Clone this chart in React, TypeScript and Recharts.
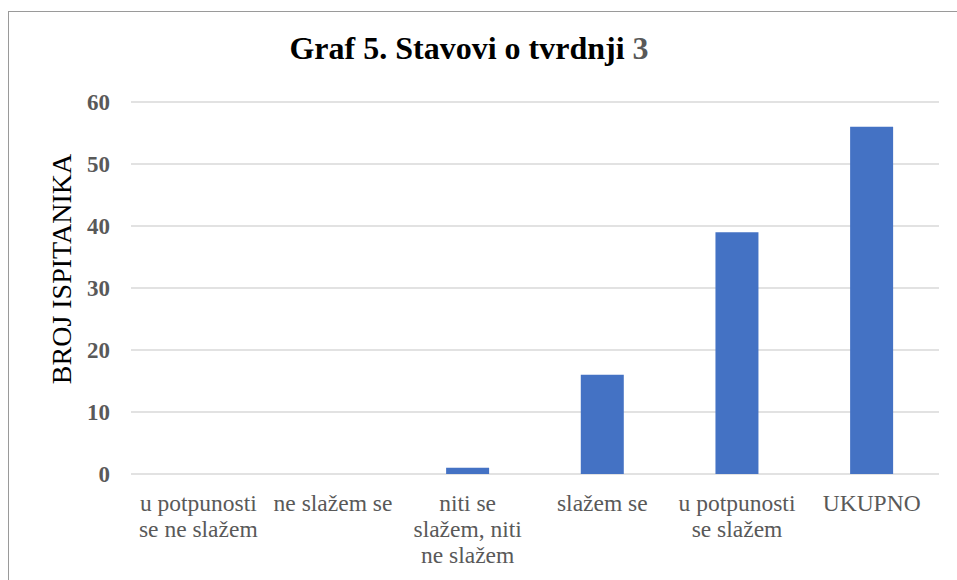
import React from "react";
import { BarChart, Bar, XAxis, YAxis, CartesianGrid } from "recharts";

const categories = [
  "u potpunosti se ne slažem",
  "ne slažem se",
  "niti se slažem, niti ne slažem",
  "slažem se",
  "u potpunosti se slažem",
  "UKUPNO",
];
const categoryLines = [
  ["u potpunosti", "se ne slažem"],
  ["ne slažem se"],
  ["niti se", "slažem, niti", "ne slažem"],
  ["slažem se"],
  ["u potpunosti", "se slažem"],
  ["UKUPNO"],
];
const values = [0, 0, 1, 16, 39, 56];
const yTicks = [0, 10, 20, 30, 40, 50, 60];

const data = categories.map((c, i) => ({ name: c, value: values[i] }));

const FONT = "'Liberation Serif', 'Times New Roman', serif";

const renderXTick = (props: any) => {
  const { x, y, payload } = props;
  const idx = categories.indexOf(payload.value);
  const lines = idx >= 0 ? categoryLines[idx] : [String(payload.value)];
  return (
    <text x={x} y={y} textAnchor="middle" fill="#595959" style={{ fontFamily: FONT, fontSize: 23.5 }}>
      {lines.map((l: string, i: number) => (
        <tspan key={i} x={x} dy={i === 0 ? 37 : 26}>
          {l}
        </tspan>
      ))}
    </text>
  );
};

const renderYTick = (props: any) => {
  const { x, y, payload } = props;
  return (
    <text
      x={x - 21}
      y={y}
      dy={8}
      textAnchor="end"
      fill="#595959"
      style={{ fontFamily: FONT, fontSize: 23, fontWeight: "bold" }}
    >
      {payload.value}
    </text>
  );
};

const renderYLabel = () => (
  <text
    x={0}
    y={0}
    transform="translate(71, 269) rotate(-90)"
    textAnchor="middle"
    fill="#000"
    style={{ fontFamily: FONT, fontSize: 28 }}
  >
    BROJ ISPITANIKA
  </text>
);

export default function App() {
  return (
    <div
      style={{
        position: "absolute",
        left: 0,
        top: 0,
        width: 957,
        height: 580,
        overflow: "hidden",
        background: "#fff",
        fontFamily: FONT,
      }}
    >
      <div
        style={{
          position: "absolute",
          left: 8,
          top: 11,
          width: 1200,
          height: 1200,
          border: "1px solid #9a9a9a",
        }}
      />
      <div
        style={{
          position: "absolute",
          left: 0,
          width: 938,
          top: 30,
          textAlign: "center",
          fontFamily: FONT,
          fontWeight: "bold",
          fontSize: 32,
          color: "#000",
          lineHeight: "36px",
        }}
      >
        Graf 5. Stavovi o tvrdnji <span style={{ color: "#595959" }}>3</span>
      </div>
      <div style={{ position: "absolute", left: 0, top: 0 }}>
        <BarChart
          width={957}
          height={580}
          data={data}
          margin={{ top: 102, right: 18, bottom: 0, left: 0 }}
          barCategoryGap="34%"
        >
          <CartesianGrid vertical={false} stroke="#d9d9d9" strokeWidth={1.5} />
          <XAxis
            dataKey="name"
            axisLine={false}
            tickLine={false}
            tickSize={0}
            tickMargin={0}
            interval={0}
            tick={renderXTick}
            height={106}
          />
          <YAxis
            width={131}
            domain={[0, 60]}
            ticks={yTicks}
            axisLine={false}
            tickLine={false}
            tickSize={0}
            tickMargin={0}
            tick={renderYTick}
            label={renderYLabel}
          />
          <Bar dataKey="value" fill="#4472C4" isAnimationActive={false} />
        </BarChart>
      </div>
    </div>
  );
}
